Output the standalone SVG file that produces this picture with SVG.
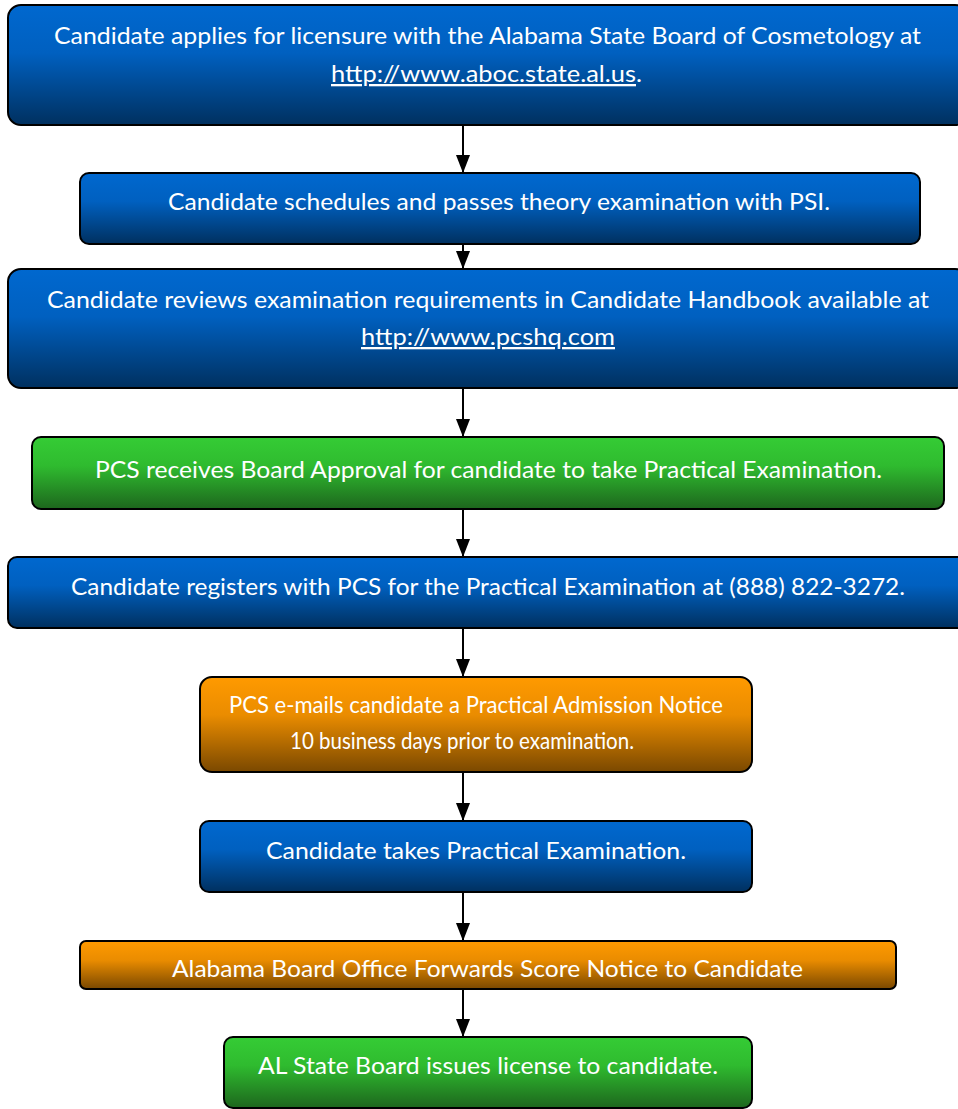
<svg xmlns="http://www.w3.org/2000/svg" width="958" height="1109" viewBox="0 0 958 1109">
<style>
.box{stroke:#000;stroke-width:2}
.t{font-family:Lato,"Open Sans","Liberation Sans",sans-serif;font-size:23px;fill:#fff;text-anchor:middle}
.u{text-decoration:underline}
.c{stroke:#000;stroke-width:2;fill:none}
</style>
<defs>
<linearGradient id="gb" x1="0" y1="0" x2="0" y2="1"><stop offset="0" stop-color="#0068cf"/><stop offset="0.4" stop-color="#0060c0"/><stop offset="1" stop-color="#00305f"/></linearGradient>
<linearGradient id="gg" x1="0" y1="0" x2="0" y2="1"><stop offset="0" stop-color="#35cc35"/><stop offset="0.4" stop-color="#2fbb2f"/><stop offset="1" stop-color="#1d661d"/></linearGradient>
<linearGradient id="go" x1="0" y1="0" x2="0" y2="1"><stop offset="0" stop-color="#ff9a00"/><stop offset="0.4" stop-color="#ea8c00"/><stop offset="1" stop-color="#7a4800"/></linearGradient>
<marker id="a" viewBox="0 0 18 14" refX="18" refY="7" markerWidth="18" markerHeight="14" markerUnits="userSpaceOnUse" orient="auto"><path d="M0,0 L18,7 L0,14 Z" fill="#000"/></marker>
</defs>
<g id="connectors">
<line class="c" x1="463" y1="125" x2="463" y2="173" marker-end="url(#a)"/>
<line class="c" x1="463" y1="244" x2="463" y2="269" marker-end="url(#a)"/>
<line class="c" x1="463" y1="388" x2="463" y2="437" marker-end="url(#a)"/>
<line class="c" x1="463" y1="509" x2="463" y2="557" marker-end="url(#a)"/>
<line class="c" x1="463" y1="628" x2="463" y2="677" marker-end="url(#a)"/>
<line class="c" x1="463" y1="772" x2="463" y2="821" marker-end="url(#a)"/>
<line class="c" x1="463" y1="892" x2="463" y2="941" marker-end="url(#a)"/>
<line class="c" x1="463" y1="989" x2="463" y2="1037" marker-end="url(#a)"/>
</g>
<g id="n1">
<rect class="box" x="8" y="5" width="960" height="120" rx="13" fill="url(#gb)"/>
<text class="t" x="487.5" y="44" textLength="867" lengthAdjust="spacingAndGlyphs">Candidate applies for licensure with the Alabama State Board of Cosmetology at</text>
<text class="t" x="486.5" y="82" textLength="311" lengthAdjust="spacingAndGlyphs"><tspan class="u">http://www.aboc.state.al.us</tspan>.</text>
</g>
<g id="n2">
<rect class="box" x="80" y="173" width="840" height="71" rx="9" fill="url(#gb)"/>
<text class="t" x="499" y="210" textLength="662" lengthAdjust="spacingAndGlyphs">Candidate schedules and passes theory examination with PSI.</text>
</g>
<g id="n3">
<rect class="box" x="8" y="269" width="960" height="119" rx="13" fill="url(#gb)"/>
<text class="t" x="488" y="308" textLength="882" lengthAdjust="spacingAndGlyphs">Candidate reviews examination requirements in Candidate Handbook available at</text>
<text class="t u" x="488" y="345" textLength="254" lengthAdjust="spacingAndGlyphs">http://www.pcshq.com</text>
</g>
<g id="n4">
<rect class="box" x="32" y="437" width="912" height="72" rx="9" fill="url(#gg)"/>
<text class="t" x="488.5" y="478" textLength="787" lengthAdjust="spacingAndGlyphs">PCS receives Board Approval for candidate to take Practical Examination.</text>
</g>
<g id="n5">
<rect class="box" x="8" y="557" width="960" height="71" rx="9" fill="url(#gb)"/>
<text class="t" x="488" y="595" textLength="834" lengthAdjust="spacingAndGlyphs">Candidate registers with PCS for the Practical Examination at (888) 822-3272.</text>
</g>
<g id="n6">
<rect class="box" x="200" y="677" width="552" height="95" rx="12" fill="url(#go)"/>
<text class="t" x="476" y="713" font-size="21" textLength="494" lengthAdjust="spacingAndGlyphs">PCS e-mails candidate a Practical Admission Notice</text>
<text class="t" x="462" y="749" font-size="21" textLength="344" lengthAdjust="spacingAndGlyphs">10 business days prior to examination.</text>
</g>
<g id="n7">
<rect class="box" x="200" y="821" width="552" height="71" rx="9" fill="url(#gb)"/>
<text class="t" x="476" y="859" textLength="420" lengthAdjust="spacingAndGlyphs">Candidate takes Practical Examination.</text>
</g>
<g id="n8">
<rect class="box" x="80" y="941" width="816" height="48" rx="6" fill="url(#go)"/>
<text class="t" x="487.5" y="977" textLength="631" lengthAdjust="spacingAndGlyphs">Alabama Board Office Forwards Score Notice to Candidate</text>
</g>
<g id="n9">
<rect class="box" x="224" y="1037" width="528" height="71" rx="9" fill="url(#gg)"/>
<text class="t" x="488" y="1074" textLength="460" lengthAdjust="spacingAndGlyphs">AL State Board issues license to candidate.</text>
</g>
</svg>
